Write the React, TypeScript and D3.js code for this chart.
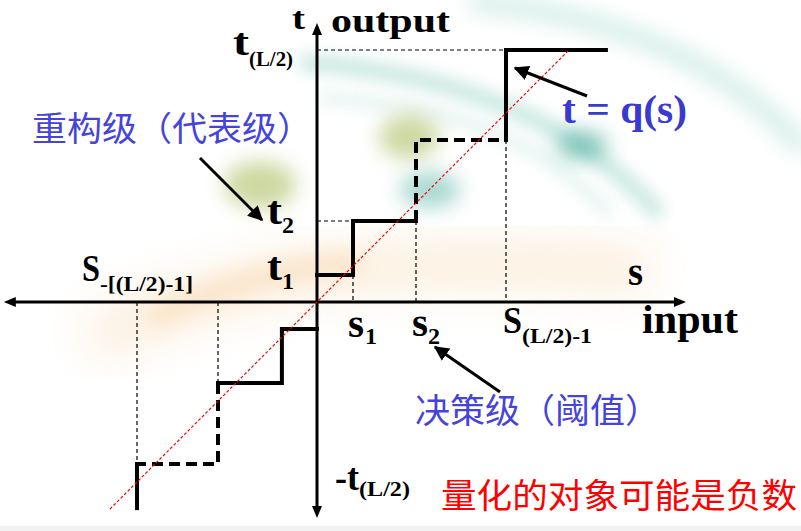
import React from "react";
import * as d3 from "d3";

// ---- data (in abstract units: input s, output t) ----
const posThresholds = [0.4, 1.1, 2.1];          // s1, s2, s_(L/2)-1
const posLevels = [0.3, 0.9, 1.8, 2.8];         // t1, t2, t3, t_(L/2)
const negThresholds = [-0.39, -1.1, -2.0];
const negLevels = [-0.3, -0.9, -1.8];
const topEnd = 3.21;
const bottomEnd = -2.29;
const xAxisExtent = [-3.48, 4.1];
const yAxisExtent = [-2.4, 3.1];
const diagonal = [-2.3, 2.8];

const W = 801, H = 531;

export default function App() {
  const x = d3.scaleLinear().domain([0, 1]).range([317, 407]);
  const y = d3.scaleLinear().domain([0, 1]).range([302, 212]);
  const line = d3.line<[number, number]>().x(d => x(d[0])).y(d => y(d[1]));

  const [s1, s2, s3] = posThresholds;
  const [t1, t2, t3, t4] = posLevels;
  const [n1, n2, n3] = negThresholds;
  const [m1, m2, m3] = negLevels;

  const solidPos1: [number, number][] = [[0, t1], [s1, t1], [s1, t2], [s2, t2]];
  const dashedPos: [number, number][] = [[s2, t2], [s2, t3], [s3, t3]];
  const solidPos2: [number, number][] = [[s3, t3], [s3, t4], [topEnd, t4]];
  const solidNeg1: [number, number][] = [[0, m1], [n1, m1], [n1, m2], [n2, m2]];
  const dashedNeg: [number, number][] = [[n2, m2], [n2, m3], [n3, m3]];
  const solidNeg2: [number, number][] = [[n3, m3], [n3, bottomEnd]];

  const guides: [number, number][][] = [
    [[0, t4], [s3, t4]],
    [[0, t2], [s1, t2]],
    [[s1, t1], [s1, 0]],
    [[s2, t2], [s2, 0]],
    [[s3, t3], [s3, 0]],
    [[n2, 0], [n2, m2]],
    [[n3, 0], [n3, m3]],
  ];

  const serif = "'Liberation Serif', 'Times New Roman', serif";
  const cjk = "'Noto Sans CJK SC', sans-serif";
  const blue = "#3a3ad2";

  const Txt = (p: { x: number; y: number; s: number; t: string; len?: number; fill?: string; ff?: string; fw?: string }) => (
    <text x={p.x} y={p.y} fontSize={p.s} fontFamily={p.ff || serif} fontWeight={p.fw || "bold"}
      fill={p.fill || "#000"} textLength={p.len} lengthAdjust={p.len ? "spacingAndGlyphs" : undefined}>{p.t}</text>
  );

  return (
    <svg width={W} height={H} style={{ position: "fixed", left: 0, top: 0, background: "#fff" }}>
      <defs>
        <filter id="b8" x="-50%" y="-50%" width="200%" height="200%"><feGaussianBlur stdDeviation="8" /></filter>
        <filter id="b10" x="-50%" y="-50%" width="200%" height="200%"><feGaussianBlur stdDeviation="10" /></filter>
        <filter id="b22" x="-50%" y="-50%" width="200%" height="200%"><feGaussianBlur stdDeviation="22" /></filter>
        <marker id="ah" viewBox="0 0 10 10" refX="9" refY="5" markerWidth="5" markerHeight="5" orient="auto" markerUnits="strokeWidth">
          <path d="M0,0 L10,5 L0,10 z" fill="#000" />
        </marker>
      </defs>

      {/* decorative background */}
      <g>
        <path d="M 90 340 Q 250 270 420 265 Q 560 262 650 272" stroke="#f6c88e" strokeWidth={50} fill="none" opacity={0.28} filter="url(#b22)" />
        <path d="M 150 320 Q 260 265 360 262" stroke="#f2b870" strokeWidth={22} fill="none" opacity={0.25} filter="url(#b10)" />
        <path d="M 470 2 Q 690 20 805 150" stroke="#7ccab8" strokeWidth={20} fill="none" opacity={0.3} filter="url(#b10)" />
        <path d="M 300 62 Q 540 78 660 215" stroke="#5dbba6" strokeWidth={16} fill="none" opacity={0.35} filter="url(#b8)" />
        <path d="M 320 98 Q 520 108 610 215" stroke="#7ccab8" strokeWidth={10} fill="none" opacity={0.25} filter="url(#b8)" />
        <ellipse cx={409} cy={137} rx={30} ry={22} fill="#9bb245" opacity={0.5} filter="url(#b10)" />
        <ellipse cx={260} cy={185} rx={36} ry={24} fill="#9bb245" opacity={0.5} filter="url(#b10)" />
        <ellipse cx={430} cy={190} rx={30} ry={18} fill="#3faa98" opacity={0.45} filter="url(#b10)" />
        <ellipse cx={582} cy={145} rx={26} ry={15} fill="#2f9f8a" opacity={0.5} filter="url(#b10)" />
        <rect x={0} y={526} width={W} height={5} fill="#f2f2f2" />
      </g>

      {/* guides */}
      {guides.map((g, i) => (
        <path key={i} d={line(g) || ""} stroke="#000" strokeWidth={1.2} strokeDasharray="4 3" fill="none" />
      ))}

      {/* axes */}
      <line x1={x(xAxisExtent[0]) + 10} y1={y(0)} x2={x(xAxisExtent[1]) - 10} y2={y(0)} stroke="#000" strokeWidth={3} />
      <path d={`M${x(xAxisExtent[0])},${y(0)} l12,-5 l0,10 z`} fill="#000" />
      <path d={`M${x(xAxisExtent[1])},${y(0)} l-12,-5 l0,10 z`} fill="#000" />
      <line x1={x(0)} y1={y(yAxisExtent[1]) + 10} x2={x(0)} y2={y(yAxisExtent[0]) - 10} stroke="#000" strokeWidth={3} />
      <path d={`M${x(0)},${y(yAxisExtent[1])} l-5,12 l10,0 z`} fill="#000" />
      <path d={`M${x(0)},${y(yAxisExtent[0])} l-5,-12 l10,0 z`} fill="#000" />

      {/* staircase */}
      {[solidPos1, solidPos2, solidNeg1, solidNeg2].map((d, i) => (
        <path key={"s" + i} d={line(d) || ""} stroke="#000" strokeWidth={4} fill="none" strokeLinecap="square" />
      ))}
      {[dashedPos, dashedNeg].map((d, i) => (
        <path key={"d" + i} d={line(d) || ""} stroke="#000" strokeWidth={4} fill="none" strokeDasharray="11 6" />
      ))}

      {/* diagonal */}
      <line x1={x(diagonal[0])} y1={y(diagonal[0])} x2={x(diagonal[1])} y2={y(diagonal[1])}
        stroke="#ff0000" strokeWidth={1.2} strokeDasharray="3 2" />

      {/* annotation arrows */}
      <line x1={200} y1={158} x2={262} y2={220} stroke="#000" strokeWidth={3} markerEnd="url(#ah)" />
      <line x1={587} y1={96} x2={515} y2={68} stroke="#000" strokeWidth={3} markerEnd="url(#ah)" />
      <line x1={500} y1={392} x2={435} y2={347} stroke="#000" strokeWidth={3} markerEnd="url(#ah)" />

      {/* labels */}
      <Txt x={292} y={29} s={32} t="t" len={13} />
      <Txt x={331} y={32} s={34} t="output" len={119} />
      <Txt x={233} y={55} s={38} t="t" len={16} />
      <Txt x={249} y={66} s={22} t="(L/2)" len={44} />
      <Txt x={267} y={224} s={40} t="t" len={15} />
      <Txt x={282} y={233} s={24} t="2" />
      <Txt x={267} y={280} s={40} t="t" len={15} />
      <Txt x={282} y={289} s={24} t="1" />
      <Txt x={82} y={281} s={38} t="S" len={18} />
      <Txt x={100} y={291} s={22} t="-[(L/2)-1]" len={93} />
      <Txt x={348} y={337} s={40} t="s" len={16} />
      <Txt x={365} y={344} s={24} t="1" />
      <Txt x={412} y={336} s={40} t="s" len={16} />
      <Txt x={428} y={344} s={24} t="2" />
      <Txt x={503} y={333} s={38} t="S" len={19} />
      <Txt x={522} y={343} s={22} t="(L/2)-1" len={70} />
      <Txt x={628} y={285} s={40} t="s" len={15} />
      <Txt x={642} y={333} s={40} t="input" len={96} />
      <Txt x={562} y={123} s={40} t="t = q(s)" len={125} fill={blue} />
      <Txt x={335} y={490} s={38} t="-t" len={24} />
      <Txt x={359} y={496} s={22} t="(L/2)" len={51} />

      <Txt x={32} y={141} s={34} t="重构级（代表级）" len={280} fill="#4444dd" ff={cjk} fw="normal" />
      <Txt x={415} y={423} s={34} t="决策级（阈值）" len={245} fill="#4444dd" ff={cjk} fw="normal" />
      <Txt x={441} y={508} s={34} t="量化的对象可能是负数" len={356} fill="#ff0000" ff={cjk} fw="normal" />
    </svg>
  );
}
